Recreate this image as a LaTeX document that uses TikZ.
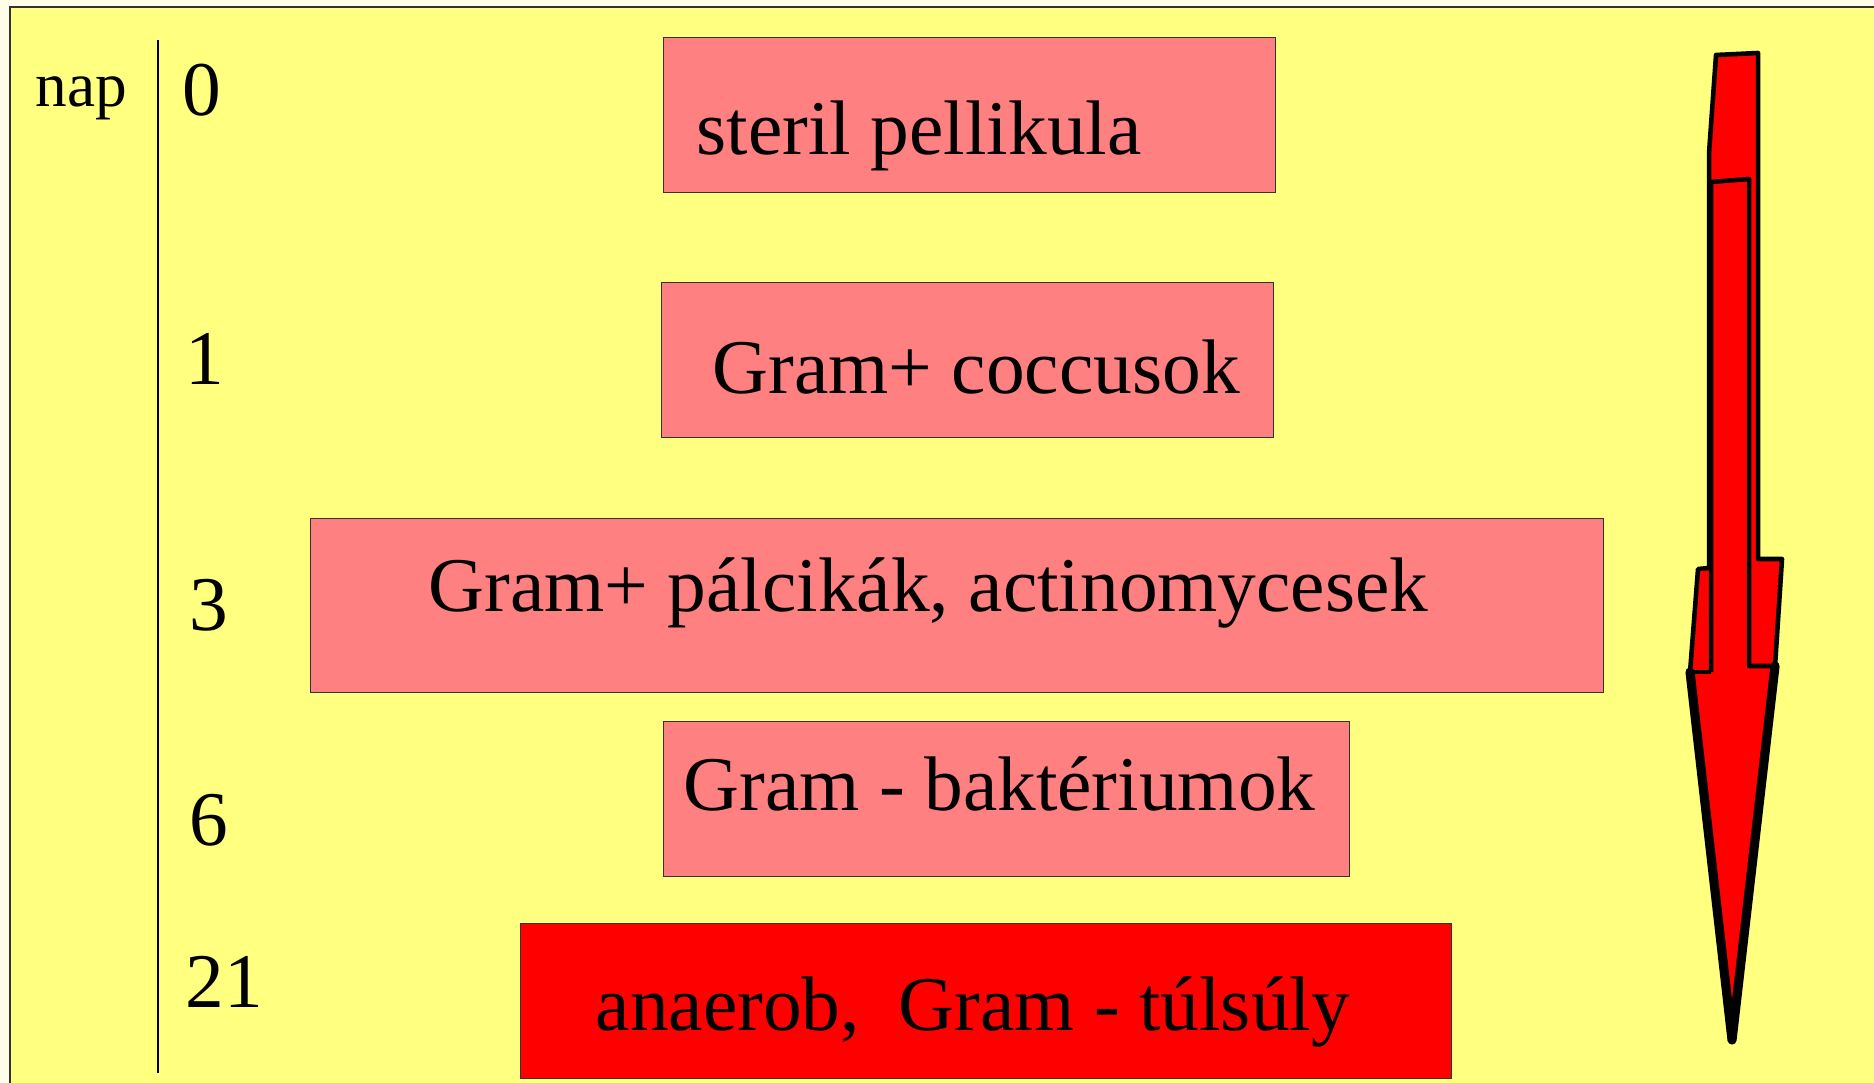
\documentclass[tikz,border=0pt]{standalone}
\usepackage{fontspec}
\setmainfont{Liberation Serif}
\usepackage{tikz}
\usetikzlibrary{positioning}
\usetikzlibrary{calc}
\definecolor{cream}{HTML}{FFFCE8}
\definecolor{pad}{HTML}{FFFF80}
\definecolor{pink}{HTML}{FF8080}

\begin{document}
\begin{tikzpicture}[x=0.01cm,y=-0.01cm,
                    day/.style={font=\fontsize{22}{26}\selectfont,inner sep=0pt,anchor=base west},
                    lbl/.style={font=\fontsize{22}{26}\selectfont,inner sep=0pt,anchor=base west},
                    box/.style={draw=black!80,line width=0.3pt,anchor=north west,inner sep=0pt,minimum height=1.55cm},
                    pinkbox/.style={box,fill=pink},
                    redbox/.style={box,fill=red}]

  \useasboundingbox (0,0) rectangle (1874,1083);
  \fill[cream] (0,0) rectangle (1874,1083);
  \fill[pad,draw=black!80,line width=0.4pt] (10,7) rectangle (1900,1100);

  % time axis
  \node[inner sep=0pt,anchor=base west,font=\fontsize{18}{22}\selectfont] (nap) at (35,107) {nap};
  \coordinate (axtop) at (158,40);
  \coordinate (axbot) at (158,1073);
  \draw[line width=0.45pt] (axtop) -- (axbot);

  \node[day] (d0) at (182,116) {0};
  \node[day] (d1) at (185,385) {1};
  \node[day] (d3) at (189,630) {3};
  \node[day] (d6) at (189,845) {6};
  \node[day] (d21) at (185,1007) {21};

  % stages
  \node[pinkbox,minimum width=6.12cm] (steril) at (663,37) {};
  \node[lbl] (sterilt) at (696,155) {steril pellikula};

  \node[pinkbox,minimum width=6.12cm] (coccus) at (661,282) {};
  \node[lbl] (coccust) at (712,394) {Gram+ coccusok};

  \node[pinkbox,minimum width=12.92cm,minimum height=1.74cm] (palci) at (310,518) {};
  \node[lbl] (palcit) at (428,612) {Gram+ pálcikák, actinomycesek};

  \node[pinkbox,minimum width=6.86cm] (neg) at (663,721) {};
  \node[lbl] (negt) at (683,810) {Gram - baktériumok};

  \node[redbox,minimum width=9.30cm] (anaer) at (520,923) {};
  \node[lbl] (anaert) at (595,1030) {anaerob,\ \ Gram - túlsúly};

  % big arrow
  \draw[fill=red,line width=1.3pt,line join=round]
    (1716,55) -- (1758,53) -- (1758,559) -- (1782,559) -- (1775,666)
    -- (1732,1040) -- (1690,672) -- (1698,569) -- (1709,568)
    -- (1709,153) -- cycle;
  \draw[line width=1.3pt,line join=round]
    (1711,672) -- (1711,182) -- (1749,179) -- (1749,666) -- (1775,666);
  \draw[line width=1.3pt] (1690,672) -- (1711,672);
  \draw[line width=2.6pt,line cap=round,line join=round]
    (1690,672) -- (1732,1040) -- (1775,666);
\end{tikzpicture}
\end{document}
